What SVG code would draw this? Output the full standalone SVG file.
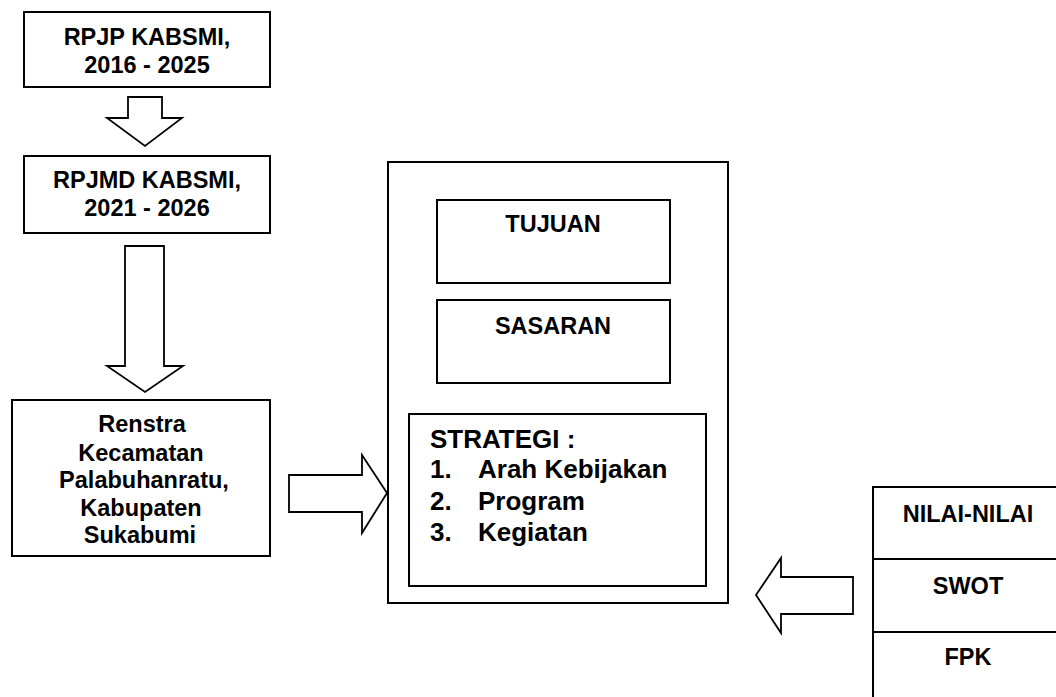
<svg xmlns="http://www.w3.org/2000/svg" width="1056" height="697" viewBox="0 0 1056 697">
<style>
.box{fill:#fff;stroke:#000;stroke-width:2}
.arr{fill:#fff;stroke:#000;stroke-width:1.8;stroke-linejoin:miter}
.t{font-family:"Liberation Sans",Arial,sans-serif;font-weight:bold;font-size:23.5px;fill:#000}
.c{text-anchor:middle}
.s{font-size:26px}
</style>
<rect width="1056" height="697" fill="#fff"/>
<g id="connectors">
<polygon class="arr" points="128,97 162,97 162,118 182,118 145,146 107,118 128,118"/>
<polygon class="arr" points="125,246 164,246 164,366 183,366 145,392 107,366 125,366"/>
<polygon class="arr" points="289,475 362,475 362,455 387,493 362,533 362,512 289,512"/>
<polygon class="arr" points="853,577 781,577 781,558 756,595 781,633 781,614 853,614"/>
</g>
<g id="rpjp">
<rect class="box" x="24" y="12" width="246" height="75"/>
<text class="t c" x="147" y="45">RPJP KABSMI,</text>
<text class="t c" x="147" y="73">2016 - 2025</text>
</g>
<g id="rpjmd">
<rect class="box" x="24" y="156" width="246" height="77"/>
<text class="t c" x="147" y="188">RPJMD KABSMI,</text>
<text class="t c" x="147" y="216">2021 - 2026</text>
</g>
<g id="renstra">
<rect class="box" x="12" y="400" width="258" height="156"/>
<text class="t c" x="142" y="432">Renstra</text>
<text class="t c" x="141" y="461">Kecamatan</text>
<text class="t c" x="144" y="488">Palabuhanratu,</text>
<text class="t c" x="141" y="516">Kabupaten</text>
<text class="t c" x="140" y="543">Sukabumi</text>
</g>
<g id="container">
<rect class="box" x="388" y="162" width="340" height="441"/>
<text x="436" y="195" font-family="Liberation Sans,Arial,sans-serif" font-size="5" fill="#888">.</text>
</g>
<g id="tujuan">
<rect class="box" x="437" y="200" width="233" height="83"/>
<text class="t c" x="553" y="232">TUJUAN</text>
</g>
<g id="sasaran">
<rect class="box" x="437" y="300" width="233" height="83"/>
<text class="t c" x="553" y="334">SASARAN</text>
</g>
<g id="strategi">
<rect class="box" x="409" y="414" width="297" height="172"/>
<text class="t s" x="430" y="448">STRATEGI :</text>
<text class="t s" x="430" y="478">1.</text><text class="t s" x="478" y="478">Arah Kebijakan</text>
<text class="t s" x="430" y="510">2.</text><text class="t s" x="478" y="510">Program</text>
<text class="t s" x="430" y="541">3.</text><text class="t s" x="478" y="541">Kegiatan</text>
</g>
<g id="faktor">
<rect class="box" x="873" y="487" width="200" height="230"/>
<line x1="873" y1="559" x2="1056" y2="559" stroke="#000" stroke-width="2"/>
<line x1="873" y1="632" x2="1056" y2="632" stroke="#000" stroke-width="2"/>
<text class="t c" x="968" y="522">NILAI-NILAI</text>
<text class="t c" x="968" y="594">SWOT</text>
<text class="t c" x="968" y="665">FPK</text>
</g>
</svg>
